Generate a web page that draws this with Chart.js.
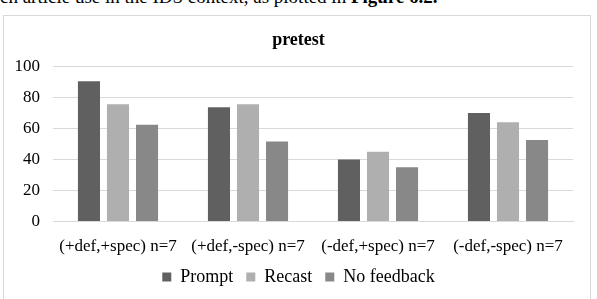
<!DOCTYPE html>
<html>
<head>
<meta charset="utf-8">
<script src="https://cdn.jsdelivr.net/npm/chart.js@4"></script>
<style>
  html, body { margin: 0; padding: 0; background: #fff; }
  body { width: 597px; height: 299px; position: relative; overflow: hidden; font-family: "Liberation Serif", serif; }
  #line { position: absolute; left: 0; top: -13px; font-size: 19px; line-height: 20px; color: #000; white-space: nowrap; }
  #frame { position: absolute; left: 3px; top: 15px; width: 586px; height: 300px; border: 1px solid #d9d9d9; }
  #wrap { position: absolute; left: 0; top: 0; width: 597px; height: 299px; }
</style>
</head>
<body>
<div id="line">ch article use in the IDS context, as plotted in <b>Figure 6.2.</b></div>
<div id="frame"></div>
<div id="wrap"><canvas id="grafico" width="597" height="299"></canvas></div>
<script>
const categorias = ["(+def,+spec) n=7", "(+def,-spec) n=7", "(-def,+spec) n=7", "(-def,-spec) n=7"];
const prompt = [90.5, 73.8, 40, 70];
const recast = [75.7, 75.7, 45, 64];
const noFeedback = [62.4, 51.6, 35, 52.6];
const ticksY = [0, 20, 40, 60, 80, 100];

const fuente = "'Liberation Serif', 'Times New Roman', serif";

new Chart(document.getElementById("grafico"), {
  type: "bar",
  data: {
    labels: categorias,
    datasets: [
      { label: "Prompt", data: prompt, backgroundColor: "#606060" },
      { label: "Recast", data: recast, backgroundColor: "#afafaf" },
      { label: "No feedback", data: noFeedback, backgroundColor: "#888888" }
    ]
  },
  options: {
    responsive: false,
    animation: false,
    devicePixelRatio: 1,
    categoryPercentage: 0.67,
    barPercentage: 0.76,
    layout: { padding: { left: 0, right: 0, top: 0, bottom: 3 } },
    plugins: {
      title: {
        display: true,
        text: "pretest",
        color: "#000",
        font: { family: fuente, size: 18, weight: "bold" },
        padding: { top: 30, bottom: 15 }
      },
      legend: {
        position: "bottom",
        labels: {
          color: "#000",
          font: { family: fuente, size: 18 },
          boxWidth: 9,
          boxHeight: 9,
          padding: 13
        }
      },
      tooltip: { enabled: false }
    },
    scales: {
      x: {
        afterFit: s => { s.height = 33.5; },
        grid: { display: false, drawTicks: false },
        border: { display: true, color: "#d9d9d9" },
        ticks: { color: "#000", font: { family: fuente, size: 17 }, padding: 15, maxRotation: 0 }
      },
      y: {
        min: 0,
        max: 100,
        afterFit: s => { s.width = 53; },
        afterBuildTicks: s => { s.ticks = ticksY.map(v => ({ value: v })); },
        grid: { color: "#d9d9d9", drawTicks: false },
        border: { display: false },
        ticks: { color: "#000", font: { family: fuente, size: 17 }, padding: 13 }
      },
      // eje vacío a la derecha, solo para dejar el margen
      derecha: {
        type: "linear",
        position: "right",
        afterFit: s => { s.width = 24; },
        grid: { display: false, drawTicks: false },
        border: { display: false },
        ticks: { display: false }
      }
    }
  }
});
</script>
</body>
</html>
